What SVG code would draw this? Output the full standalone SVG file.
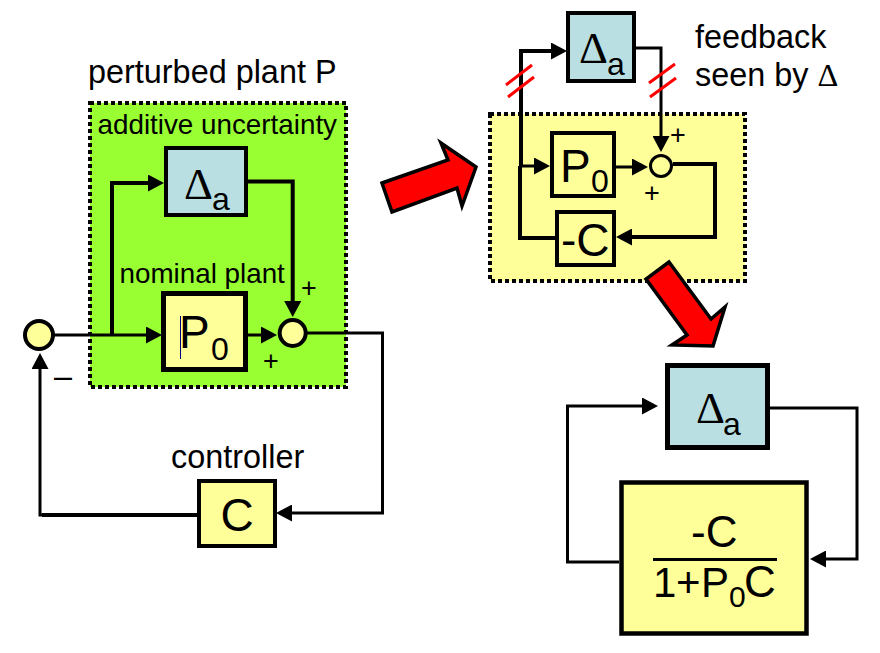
<svg xmlns="http://www.w3.org/2000/svg" width="880" height="653" viewBox="0 0 880 653">
<style>
text{font-family:"Liberation Sans",Arial,sans-serif;fill:#000}
.sym{font-family:"Liberation Serif","Times New Roman",serif;font-size:45px}
.big{font-size:46px}
.sub{font-size:32px}
.lbl{font-size:32.400px}
.in{font-size:27.800px}
.pm{font-size:27px;text-anchor:middle}
.yb{fill:#ffff99;stroke:#000}
.bb{fill:#b9dfe3;stroke:#000}
.region{stroke:#000;stroke-width:4;stroke-dasharray:4 3}
.m{fill:none;stroke:#000;stroke-width:4;marker-end:url(#ah)}
.n{fill:none;stroke:#000;stroke-width:4}
.t{fill:none;stroke:#000;stroke-width:3;marker-end:url(#ah)}
.cut{stroke:#ff0000;stroke-width:3;fill:none}
.big-arrow{fill:#ff0000;stroke:#000;stroke-width:3.500;stroke-linejoin:miter}
</style>
<defs>
<marker id="ah" markerUnits="userSpaceOnUse" viewBox="0 0 16 17" refX="1" refY="8.500" markerWidth="16" markerHeight="17" orient="auto"><path d="M0 0L16 8.500L0 17Z" fill="#000"/></marker>
</defs>

<g id="plant-region"><rect class="region" x="90" y="103" width="256" height="284" fill="#99ff33"/></g>
<g id="closed-loop-region"><rect class="region" x="490" y="114" width="255" height="167" fill="#ffff99"/></g>

<g id="connectors">
<path class="t" d="M53 335H147"/>
<path class="m" d="M112 335V183H149"/>
<path class="m" d="M248 181.500H292.700V302"/>
<path class="t" d="M248 335H262"/>
<path class="t" d="M307 333H382.500V513H291"/>
<path class="t" d="M197 515H40V368"/>
<path class="n" d="M197 515H42"/>

<path class="m" d="M521 166V51H552"/>
<path class="t" d="M636 48H661V137"/>
<path class="t" d="M520 166H535"/>
<path class="t" d="M616 167H633"/>
<path class="m" d="M673 164H715V237H631"/>
<path class="n" d="M555 238H520V166"/>
<path class="cut" d="M506 85L532 65M508 97L534 77M649 83L675 64M650 97L676 78"/>

<path class="t" d="M619 562H567.500V406H643"/>
<path class="t" d="M770 408H857V559H825"/>
</g>

<g id="red-arrows">
<path class="big-arrow" d="M382 183L448 160L441 143L476 167L462 206L457 188L392 212Z"/>
<path class="big-arrow" d="M669 262L711 319L725 307L713 346L672 345L687 335L646 279Z"/>
</g>

<g id="sum-left"><circle class="yb" stroke-width="4" cx="39" cy="335" r="14"/><text x="63" y="387" class="lbl" text-anchor="middle">–</text></g>
<g id="delta-a-1"><rect class="bb" stroke-width="4" x="166" y="148" width="80" height="67"/><text class="sym" x="184" y="199">Δ</text><text class="sub" x="212" y="210">a</text></g>
<g id="p0-1"><rect class="yb" stroke-width="5" x="163.500" y="293.500" width="82" height="76"/><line x1="180.500" y1="316" x2="180.500" y2="359" stroke="#000080" stroke-width="1"/><text class="big" x="179" y="348">P</text><text class="sub" x="211" y="360">0</text></g>
<g id="sum-1"><circle class="yb" stroke-width="4" cx="292.700" cy="333" r="13"/><text class="pm" x="309" y="297">+</text><text class="pm" x="271" y="370">+</text></g>
<g id="c-1"><rect class="yb" stroke-width="4" x="199" y="481" width="76" height="65"/><text class="big" x="237" y="531" text-anchor="middle">C</text></g>

<g id="delta-a-2"><rect class="bb" stroke-width="4" x="568" y="13" width="66" height="68"/><text class="sym" x="579" y="63">Δ</text><text class="sub" x="607" y="75">a</text></g>
<g id="p0-2"><rect class="yb" stroke-width="4" x="552" y="133" width="62" height="63"/><text class="big" x="560" y="182">P</text><text class="sub" x="591" y="192">0</text></g>
<g id="minus-c-2"><rect class="yb" stroke-width="4" x="557" y="212" width="57" height="53"/><text class="big" x="561" y="256">-C</text></g>
<g id="sum-2"><circle class="yb" stroke-width="3" cx="661" cy="166" r="10.500"/><text class="pm" x="678" y="144">+</text><text class="pm" x="652" y="202">+</text></g>

<g id="delta-a-3"><rect class="bb" stroke-width="5" x="667.500" y="365.500" width="100" height="82"/><text class="sym" x="696" y="423">Δ</text><text class="sub" x="723" y="435">a</text></g>
<g id="fraction-3"><rect class="yb" stroke-width="4.500" x="621.500" y="482.500" width="185" height="151"/>
<text font-size="44" x="691" y="547">-C</text>
<line x1="653" y1="559.500" x2="777" y2="559.500" stroke="#000" stroke-width="3"/>
<text font-size="42" x="653" y="597">1</text><text font-size="42" x="676" y="597">+</text><text font-size="42" x="701" y="597">P</text><text font-size="30" x="729" y="607">0</text><text font-size="44" x="744" y="597">C</text></g>

<g id="labels">
<text class="lbl" x="88" y="83">perturbed plant P</text>
<text class="in" x="97.500" y="134">additive uncertainty</text>
<text class="in" x="119.500" y="283">nominal plant</text>
<text class="lbl" x="171" y="468">controller</text>
<text class="lbl" x="695" y="48">feedback</text>
<text class="lbl" x="695" y="86">seen by <tspan style="font-family:'Liberation Serif',serif">Δ</tspan></text>
</g>
</svg>
